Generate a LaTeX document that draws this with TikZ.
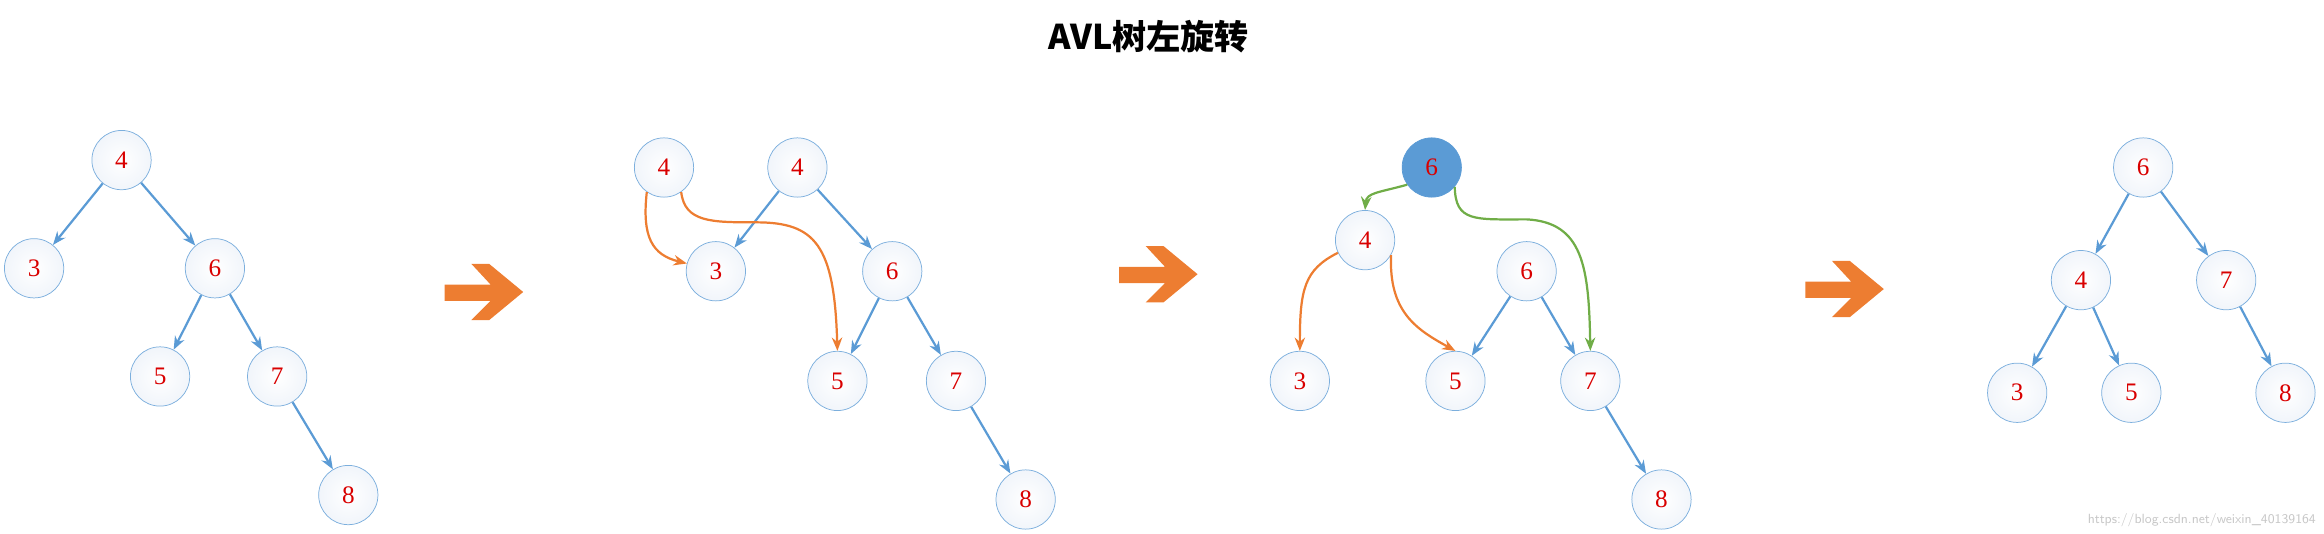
\documentclass[tikz,border=0pt]{standalone}
\usepackage{fontspec}
\setmainfont{Liberation Serif}
\newfontfamily\cjk{Noto Sans CJK SC}[BoldFont={* Black}]
\usetikzlibrary{arrows.meta,shadings}
\definecolor{eblue}{HTML}{5B9BD5}
\definecolor{eorange}{HTML}{ED7D31}
\definecolor{egreen}{HTML}{70AD47}
\definecolor{nodeb}{HTML}{DCE6F4}
\begin{document}
\begin{tikzpicture}[x=1pt,y=-1pt,
  base/.style={circle,minimum size=40pt,inner sep=0pt,draw=eblue!80,line width=0.5pt,
    text=red!85!black,font=\fontsize{17}{17}\selectfont},
  nd/.style={base,inner color=white,outer color=nodeb!40},
  hot/.style={base,fill=eblue,draw=eblue},
  ed/.style={draw=eblue,line width=1.5pt,-{Stealth[length=9pt,width=7pt]}},
  oe/.style={draw=eorange,line width=1.5pt,-{Stealth[length=9pt,width=7pt]}},
  ge/.style={draw=egreen,line width=1.5pt,-{Stealth[length=9pt,width=7pt]}},
  bigarrow/.style={fill=eorange,draw=none}]
\useasboundingbox (0,0) rectangle (1568,360);
\node[font=\cjk\bfseries\fontsize{23}{23}\selectfont] (title) at (775,25) {AVL树左旋转};
% tree 1
\node[nd] (a4) at (82,108) {4};
\node[nd] (a3) at (23,181) {3};
\node[nd] (a6) at (145,181) {6};
\node[nd] (a5) at (108,254) {5};
\node[nd] (a7) at (187,254) {7};
\node[nd] (a8) at (235,334) {8};
\draw[ed] (a4) -- (a3); \draw[ed] (a4) -- (a6);
\draw[ed] (a6) -- (a5); \draw[ed] (a6) -- (a7);
\draw[ed] (a7) -- (a8);
% arrows
\foreach \dx/\dy in {0/0,455/-12,918/-2}{
 \fill[bigarrow,shift={(\dx,\dy)}] (300,192) -- (331,192) -- (318,178) -- (330,178) -- (353,197) -- (330,216) -- (318,216) -- (331,203) -- (300,203) -- cycle;}
% tree 2
\node[nd] (b4a) at (448,113) {4};
\node[nd] (b4) at (538,113) {4};
\node[nd] (b3) at (483,183) {3};
\node[nd] (b6) at (602,183) {6};
\node[nd] (b5) at (565,257) {5};
\node[nd] (b7) at (645,257) {7};
\node[nd] (b8) at (692,337) {8};
\draw[ed] (b4) -- (b3); \draw[ed] (b4) -- (b6);
\draw[ed] (b6) -- (b5); \draw[ed] (b6) -- (b7);
\draw[ed] (b7) -- (b8);
\draw[oe] (b4a.-125) .. controls (433,160) and (440,172) .. (b3.165);
\draw[oe] (b4a.-55) .. controls (462,150) and (480,150) .. (510,150) .. controls (550,150) and (563,165) .. (b5.north);
% tree 3
\node[hot] (c6a) at (966,113) {6};
\node[nd] (c4) at (921,162) {4};
\node[nd] (c6) at (1030,183) {6};
\node[nd] (c3) at (877,257) {3};
\node[nd] (c5) at (982,257) {5};
\node[nd] (c7) at (1073,257) {7};
\node[nd] (c8) at (1121,337) {8};
\draw[ed] (c6) -- (c5); \draw[ed] (c6) -- (c7);
\draw[ed] (c7) -- (c8);
\draw[ge] (c6a.-145) .. controls (930,130) and (922,130) .. (c4.north);
\draw[ge] (c6a.-40) .. controls (982,150) and (995,148) .. (1030,148) .. controls (1068,150) and (1072,180) .. (c7.north);
\draw[oe] (c4.-155) .. controls (880,182) and (877,195) .. (c3.north);
\draw[oe] (c4.-30) .. controls (937,210) and (955,222) .. (c5.north);
% tree 4
\node[nd] (d6) at (1446,113) {6};
\node[nd] (d4) at (1404,189) {4};
\node[nd] (d7) at (1502,189) {7};
\node[nd] (d3) at (1361,265) {3};
\node[nd] (d5) at (1438,265) {5};
\node[nd] (d8) at (1542,265) {8};
\draw[ed] (d6) -- (d4); \draw[ed] (d6) -- (d7);
\draw[ed] (d4) -- (d3); \draw[ed] (d4) -- (d5);
\draw[ed] (d7) -- (d8);
\node[font=\sffamily\fontsize{9}{9}\selectfont,text=black!22,anchor=south east] (wm) at (1566,359) {https://blog.csdn.net/weixin\_40139164};
\end{tikzpicture}
\end{document}
